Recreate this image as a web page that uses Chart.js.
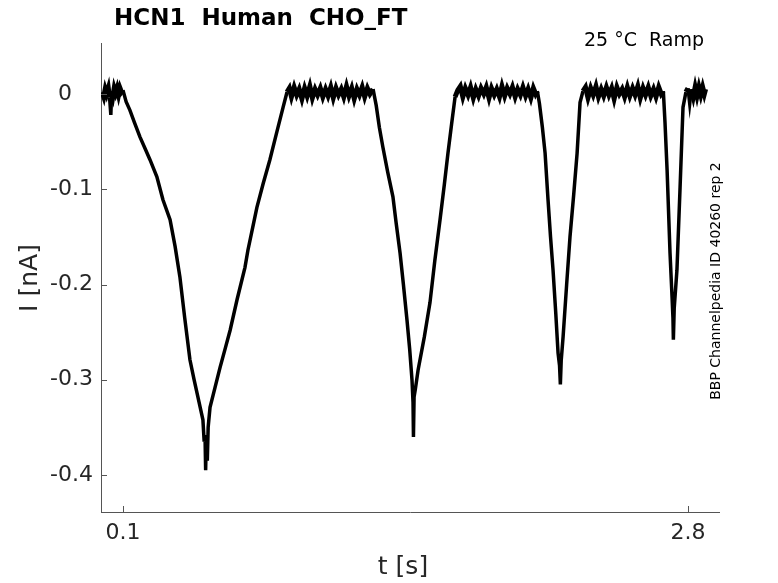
<!DOCTYPE html>
<html>
<head>
<meta charset="utf-8">
<script src="https://cdn.jsdelivr.net/npm/chart.js@4"></script>
<style>
  body { margin: 0; background: #fff; }
  #wrap { width: 778px; height: 583px; position: relative; }
</style>
</head>
<body>
<div id="wrap"><canvas id="trace"></canvas></div>
<script>
// time [s] and current [nA]
const timeS = [
  // holding, before first ramp
  0.000, 0.008, 0.015, 0.022, 0.030, 0.036, 0.042, 0.046, 0.052, 0.058, 0.065, 0.072, 0.079, 0.086, 0.093, 0.100,
  // ramp 1 down / up
  0.115, 0.133, 0.155, 0.181, 0.205, 0.229, 0.262, 0.291, 0.325, 0.349, 0.372, 0.395, 0.420, 0.440, 0.454, 0.470,
  0.482, 0.488, 0.492, 0.495, 0.498, 0.503, 0.507, 0.516, 0.540, 0.564, 0.590, 0.612, 0.645, 0.683, 0.697, 0.720,
  0.740, 0.770, 0.802, 0.835, 0.865, 0.884,
  // holding
  0.895, 0.905, 0.918, 0.930, 0.942, 0.955, 0.968, 0.980, 0.993, 1.005, 1.018, 1.030, 1.043, 1.055, 1.068, 1.080,
  1.093, 1.105, 1.118, 1.130, 1.143, 1.155, 1.168, 1.180, 1.193, 1.205, 1.218, 1.230, 1.243, 1.255, 1.268, 1.280, 1.295,
  // ramp 2
  1.310, 1.325, 1.342, 1.365, 1.390, 1.405, 1.424, 1.440, 1.457, 1.470, 1.481, 1.486, 1.488, 1.491, 1.497,
  1.510, 1.540, 1.567, 1.590, 1.615, 1.635, 1.653, 1.670, 1.687, 1.700,
  // holding
  1.712, 1.724, 1.736, 1.749, 1.761, 1.774, 1.786, 1.799, 1.811, 1.824, 1.836, 1.849, 1.861, 1.874, 1.886, 1.899,
  1.911, 1.924, 1.936, 1.949, 1.961, 1.974, 1.986, 1.999, 2.011, 2.024, 2.036, 2.049, 2.061, 2.072, 2.080,
  // ramp 3
  2.090, 2.104, 2.117, 2.131, 2.143, 2.155, 2.168, 2.179, 2.186, 2.190, 2.194,
  2.203, 2.220, 2.236, 2.254, 2.270, 2.284, 2.298,
  // holding
  2.310, 2.322, 2.335, 2.347, 2.360, 2.372, 2.385, 2.397, 2.410, 2.422, 2.435, 2.447, 2.460, 2.472, 2.485, 2.497,
  2.510, 2.522, 2.535, 2.547, 2.560, 2.572, 2.585, 2.597, 2.610, 2.622, 2.635, 2.647, 2.660, 2.672, 2.682,
  // ramp 4
  2.690, 2.700, 2.714, 2.724, 2.728, 2.730, 2.734, 2.747, 2.762, 2.776, 2.790,
  // holding
  2.800, 2.808, 2.816, 2.825, 2.834, 2.843, 2.852, 2.861, 2.870, 2.878, 2.884
];
const currentNA = [
  0.002, -0.003, 0.005, 0.000, 0.006, -0.004, -0.022, 0.003, -0.002, 0.006, 0.001, 0.006, -0.001, 0.006, 0.002, 0.004,
  -0.008, -0.017, -0.030, -0.045, -0.057, -0.069, -0.087, -0.111, -0.132, -0.160, -0.192, -0.235, -0.279, -0.300, -0.314, -0.330,
  -0.342, -0.365, -0.358, -0.395, -0.362, -0.385, -0.350, -0.329, -0.308, -0.287, -0.266, -0.248, -0.216, -0.182, -0.164, -0.140,
  -0.119, -0.094, -0.069, -0.040, -0.014, 0.002,
  0.006, -0.003, 0.007, -0.001, 0.005, -0.005, 0.006, -0.002, 0.008, -0.004, 0.005, -0.001, 0.006, -0.003, 0.005, -0.002,
  0.007, -0.004, 0.006, -0.001, 0.005, -0.003, 0.008, -0.002, 0.006, -0.005, 0.005, -0.001, 0.007, -0.003, 0.006, 0.000, 0.005,
  -0.012, -0.035, -0.056, -0.082, -0.108, -0.135, -0.167, -0.200, -0.237, -0.268, -0.300, -0.324, -0.360, -0.318, -0.310,
  -0.290, -0.255, -0.219, -0.175, -0.132, -0.096, -0.062, -0.032, -0.003, 0.004,
  0.008, -0.003, 0.006, -0.001, 0.007, -0.004, 0.005, -0.002, 0.006, 0.000, 0.007, -0.004, 0.006, -0.001, 0.005, -0.003,
  0.008, -0.002, 0.006, 0.000, 0.007, -0.003, 0.005, -0.001, 0.007, -0.002, 0.005, -0.004, 0.006, 0.000, 0.003,
  -0.010, -0.035, -0.062, -0.111, -0.150, -0.185, -0.230, -0.272, -0.285, -0.305, -0.280,
  -0.255, -0.200, -0.150, -0.105, -0.062, -0.009, 0.003,
  0.007, -0.004, 0.006, -0.001, 0.008, -0.003, 0.005, -0.002, 0.007, -0.001, 0.006, -0.005, 0.007, 0.000, 0.005, -0.003,
  0.007, -0.002, 0.006, -0.001, 0.008, -0.004, 0.006, -0.001, 0.007, -0.002, 0.005, -0.003, 0.007, 0.000, 0.003,
  -0.030, -0.080, -0.167, -0.215, -0.235, -0.258, -0.225, -0.185, -0.098, -0.014, 0.002,
  0.006, -0.010, 0.005, -0.003, 0.007, -0.002, 0.007, -0.001, 0.007, 0.000, 0.005
];
const xTicks = [0.1, 2.8];
const yTicks = [-0.4, -0.3, -0.2, -0.1, 0];

const axisGray = "#555555";
const textGray = "#262626";

const points = timeS.map((t, i) => ({ x: t, y: currentNA[i] }));

// holding-level stretches are a dense noise band, drawn heavier than the ramps
const onHolding = (ctx) =>
  ctx.p0.parsed.y > -0.008 && ctx.p1.parsed.y > -0.008 ? 5 : undefined;

// matlab style: ticks point into the plot, plus the free-floating labels
const decorations = {
  id: "decorations",
  afterDraw(chart) {
    const ctx = chart.ctx;
    const area = chart.chartArea;
    const xs = chart.scales.x;
    const ys = chart.scales.y;
    ctx.save();
    ctx.strokeStyle = axisGray;
    ctx.lineWidth = 1;
    ctx.beginPath();
    yTicks.forEach((v) => {
      const py = Math.round(ys.getPixelForValue(v)) + 0.5;
      ctx.moveTo(area.left, py);
      ctx.lineTo(area.left + 6, py);
    });
    xTicks.forEach((v) => {
      const px = Math.round(xs.getPixelForValue(v)) + 0.5;
      ctx.moveTo(px, area.bottom);
      ctx.lineTo(px, area.bottom - 6);
    });
    ctx.stroke();

    ctx.fillStyle = "#000";
    ctx.textBaseline = "middle";
    ctx.textAlign = "left";
    ctx.font = "bold 23px 'DejaVu Sans'";
    ctx.fillText("HCN1  Human  CHO_FT", 114, 19);

    ctx.font = "19px 'DejaVu Sans'";
    ctx.textAlign = "right";
    ctx.fillText("25 °C  Ramp", 704, 41);

    ctx.fillStyle = textGray;
    ctx.font = "25px 'DejaVu Sans'";
    ctx.textAlign = "center";
    ctx.fillText("t [s]", 403, 567);

    ctx.save();
    ctx.translate(30, 278);
    ctx.rotate(-Math.PI / 2);
    ctx.fillText("I [nA]", 0, 0);
    ctx.restore();

    ctx.save();
    ctx.fillStyle = "#000";
    ctx.font = "14px 'DejaVu Sans'";
    ctx.translate(716, 281);
    ctx.rotate(-Math.PI / 2);
    ctx.fillText("BBP Channelpedia ID 40260 rep 2", 0, 0);
    ctx.restore();
    ctx.restore();
  },
};

new Chart(document.getElementById("trace"), {
  type: "line",
  data: {
    datasets: [
      {
        data: points,
        borderColor: "#000",
        borderWidth: 3.5,
        pointRadius: 0,
        tension: 0,
        fill: false,
        segment: { borderWidth: onHolding },
      },
    ],
  },
  options: {
    responsive: true,
    maintainAspectRatio: false,
    animation: false,
    layout: { padding: { left: 0, top: 43, right: 59, bottom: 0 } },
    plugins: {
      legend: { display: false },
      tooltip: { enabled: false },
    },
    scales: {
      x: {
        type: "linear",
        min: -0.005,
        max: 2.948,
        grid: { display: false, drawTicks: false },
        border: { display: true, color: axisGray, width: 1 },
        afterBuildTicks: (scale) => {
          scale.ticks = xTicks.map((v) => ({ value: v }));
        },
        afterFit: (scale) => {
          scale.height = 71;
        },
        ticks: {
          autoSkip: false,
          maxRotation: 0,
          padding: 8,
          color: textGray,
          font: { family: "DejaVu Sans", size: 22 },
          callback: (v) => v.toString(),
        },
      },
      y: {
        type: "linear",
        min: -0.4388,
        max: 0.0535,
        grid: { display: false, drawTicks: false },
        border: { display: true, color: axisGray, width: 1 },
        afterBuildTicks: (scale) => {
          scale.ticks = yTicks.map((v) => ({ value: v }));
        },
        afterFit: (scale) => {
          scale.width = 101;
        },
        ticks: {
          padding: 8,
          color: textGray,
          font: { family: "DejaVu Sans", size: 22 },
          // zero sits decimal-aligned with the others (punctuation + figure space)
          callback: (v) => (v === 0 ? "0\u2008\u2007" : v.toFixed(1)),
        },
      },
    },
  },
  plugins: [decorations],
});
</script>
</body>
</html>
